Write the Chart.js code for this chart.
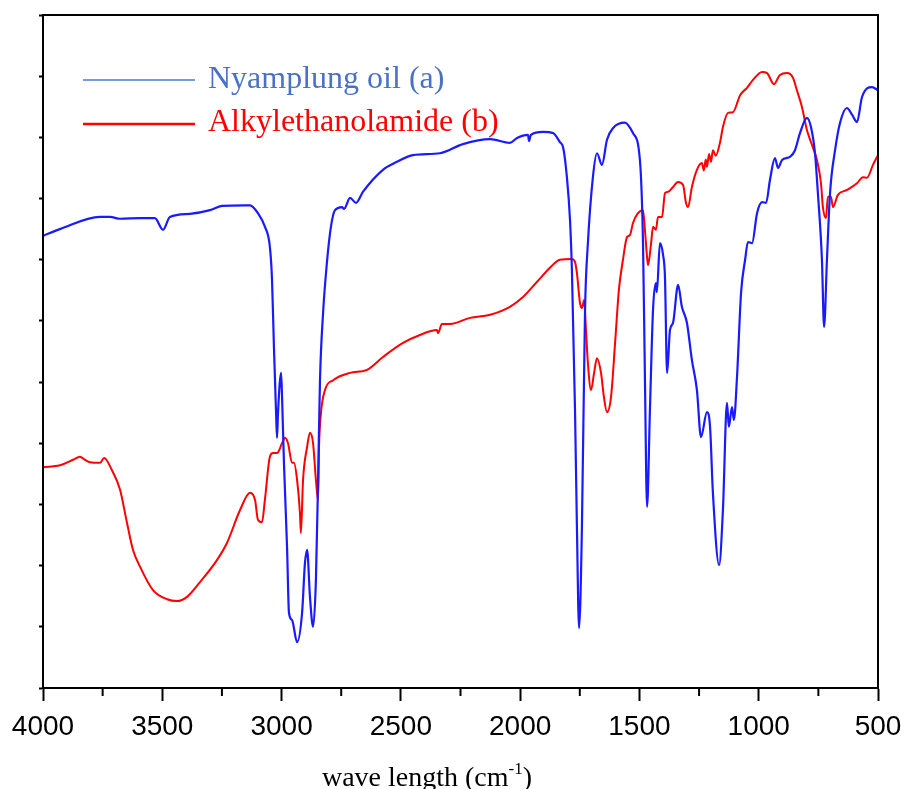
<!DOCTYPE html>
<html>
<head>
<meta charset="utf-8">
<script src="https://cdn.jsdelivr.net/npm/chart.js@4.4.1/dist/chart.umd.min.js"></script>
<style>
  html, body { margin: 0; padding: 0; background: #fff; }
  #wrap { width: 904px; height: 789px; }
</style>
</head>
<body>
<div id="wrap"><canvas id="ftirChart" width="904" height="789"></canvas></div>
<script>
// FTIR spectra, wavenumber (cm-1) vs transmittance (arbitrary units)
const nyWave = [4000, 3929, 3761, 3719, 3677, 3593, 3531, 3497, 3468, 3384, 3300, 3250, 3153, 3132, 3099,
  3070, 3049, 3040, 3032, 3023, 3019, 3015, 3002, 2998, 2990, 2977, 2969, 2956, 2935, 2914, 2902, 2893,
  2881, 2868, 2856, 2847, 2839, 2826, 2810, 2793, 2776, 2747, 2738, 2713, 2688, 2659, 2575, 2516, 2449,
  2336, 2240, 2126, 2043, 2013, 1967, 1963, 1955, 1904, 1862, 1833, 1820, 1804, 1791, 1783, 1770, 1762,
  1753, 1741, 1728, 1716, 1695, 1678, 1657, 1636, 1611, 1561, 1527, 1498, 1485, 1477, 1468, 1456, 1443,
  1431, 1427, 1414, 1401, 1393, 1384, 1372, 1359, 1338, 1322, 1301, 1280, 1259, 1242, 1217, 1204, 1192,
  1166, 1150, 1133, 1125, 1112, 1104, 1091, 1074, 1057, 1045, 1028, 1007, 986, 969, 953, 932, 919, 902,
  869, 848, 827, 798, 781, 764, 752, 735, 726, 714, 701, 680, 659, 630, 609, 588, 567, 525, 500];
const nyTrans = [73.9, 75.0, 77.0, 77.0, 76.7, 76.8, 76.8, 74.9, 77.0, 77.5, 78.1, 78.8, 78.9, 78.9, 77.6,
  75.4, 72.1, 66.7, 55.7, 44.9, 40.9, 44.9, 51.5, 47.6, 36.8, 23.0, 12.3, 11.1, 7.5, 12.3, 20.4, 22.6,
  14.9, 10.0, 17.7, 34.0, 50.3, 61.3, 69.5, 75.4, 78.1, 78.6, 78.3, 80.1, 79.3, 81.1, 84.7, 86.0, 87.1,
  87.4, 88.9, 89.7, 89.1, 89.9, 90.4, 89.4, 90.4, 90.9, 90.7, 89.2, 88.4, 83.5, 76.5, 68.3, 45.4, 26.3,
  9.8, 26.3, 61.8, 72.7, 83.5, 87.4, 85.5, 89.6, 91.5, 92.4, 90.7, 86.3, 72.7, 50.8, 29.6, 45.4, 61.8,
  66.2, 64.7, 72.7, 70.8, 67.2, 51.5, 58.5, 59.7, 65.9, 62.3, 59.7, 53.6, 48.7, 41.0, 45.1, 42.7, 31.9,
  20.1, 29.1, 46.6, 42.7, 45.9, 43.8, 50.8, 64.6, 70.0, 72.9, 72.7, 77.6, 79.4, 79.3, 83.0, 86.6, 85.0, 86.3,
  86.8, 87.9, 90.7, 93.2, 91.7, 87.4, 80.9, 70.0, 59.0, 70.0, 80.9, 87.9, 92.4, 94.8, 93.7, 92.5, 96.6, 98.2, 97.7];

const alkWave = [4000, 3929, 3874, 3845, 3824, 3803, 3761, 3744, 3711, 3677, 3648, 3623, 3593, 3539, 3480,
  3438, 3396, 3342, 3271, 3229, 3174, 3132, 3111, 3099, 3082, 3070, 3049, 3036, 3019, 2998, 2986, 2973,
  2956, 2948, 2935, 2923, 2919, 2910, 2893, 2881, 2868, 2856, 2847, 2843, 2835, 2818, 2784, 2713, 2642,
  2575, 2491, 2420, 2349, 2344, 2328, 2294, 2210, 2126, 2043, 1988, 1929, 1875, 1833, 1783, 1770, 1762,
  1749, 1741, 1732, 1724, 1716, 1703, 1690, 1678, 1661, 1649, 1636, 1619, 1602, 1586, 1569, 1552, 1540,
  1527, 1506, 1485, 1477, 1468, 1464, 1451, 1443, 1431, 1422, 1405, 1393, 1380, 1359, 1338, 1317, 1305,
  1296, 1280, 1259, 1238, 1230, 1222, 1217, 1208, 1200, 1192, 1180, 1162, 1150, 1129, 1108, 1078, 1049,
  1024, 986, 965, 936, 911, 881, 856, 840, 819, 798, 777, 756, 739, 731, 718, 710, 697, 689, 668, 630,
  588, 563, 546, 521, 500];
const alkTrans = [36.1, 36.4, 37.3, 37.8, 37.3, 36.9, 36.8, 37.6, 35.6, 32.4, 27.0, 22.6, 19.8, 16.0, 14.5,
  14.2, 14.9, 17.3, 20.9, 23.7, 29.1, 31.9, 30.7, 27.5, 27.1, 30.7, 37.8, 38.4, 38.4, 40.0, 40.9, 40.0,
  36.8, 36.8, 34.0, 28.6, 25.3, 34.0, 39.4, 41.7, 40.0, 34.0, 30.7, 39.4, 44.9, 48.7, 50.3, 51.5, 52.0,
  54.1, 56.4, 57.7, 58.5, 58.0, 59.5, 59.5, 60.5, 61.0, 62.3, 63.9, 66.4, 68.7, 70.0, 70.1, 69.6, 67.8,
  62.9, 62.1, 63.4, 58.5, 53.1, 48.7, 51.5, 53.9, 51.5, 47.6, 45.1, 47.6, 56.4, 65.1, 70.0, 73.7, 74.0,
  76.0, 77.6, 78.1, 74.9, 70.4, 69.1, 72.7, 75.4, 74.9, 77.0, 77.0, 80.9, 81.1, 81.9, 82.7, 82.2, 79.3,
  78.6, 81.9, 84.7, 85.8, 84.6, 86.4, 85.2, 87.3, 86.0, 87.9, 87.0, 89.2, 91.7, 94.0, 94.1, 96.9, 98.1,
  99.4, 100.7, 100.5, 98.7, 100.2, 100.5, 99.7, 97.7, 95.0, 91.2, 88.8, 86.3, 82.5, 78.6, 76.8, 80.3, 80.3, 78.6, 80.6, 81.4,
  82.5, 83.5, 83.4, 85.5, 87.1];

const xTicks = [4000, 3500, 3000, 2500, 2000, 1500, 1000, 500];
const xMinorTicks = [3750, 3250, 2750, 2250, 1750, 1250, 750];
const seriesNames = ['Nyamplung oil (a)', 'Alkylethanolamide (b)'];

const toPoints = (xs, ys) => xs.map((x, i) => ({ x: x, y: ys[i] }));

// frame, minor ticks, legend and axis title
const extras = {
  id: 'extras',
  afterDraw(chart) {
    const c = chart.ctx;
    const a = chart.chartArea;
    const xs = chart.scales.x;
    c.save();
    c.strokeStyle = '#000';
    c.lineWidth = 2;
    c.strokeRect(a.left, a.top, a.right - a.left, a.bottom - a.top);

    xMinorTicks.forEach(v => {
      const px = xs.getPixelForValue(v);
      c.beginPath();
      c.moveTo(px, a.bottom);
      c.lineTo(px, a.bottom + 8);
      c.stroke();
    });

    // legend
    c.font = '32px "Liberation Serif", "Times New Roman", serif';
    c.textBaseline = 'alphabetic';
    c.textAlign = 'left';
    c.strokeStyle = '#4a78d4';
    c.lineWidth = 1.5;
    c.beginPath(); c.moveTo(83, 80); c.lineTo(195, 80); c.stroke();
    c.fillStyle = '#4a72c4';
    c.fillText(seriesNames[0], 208, 88);
    c.strokeStyle = '#ff0000';
    c.lineWidth = 2.5;
    c.beginPath(); c.moveTo(83, 124); c.lineTo(195, 124); c.stroke();
    c.fillStyle = '#ff0000';
    c.fillText(seriesNames[1], 208, 131);

    // axis title
    c.fillStyle = '#000';
    c.font = '28px "Liberation Serif", "Times New Roman", serif';
    const t1 = 'wave length (cm';
    const w1 = c.measureText(t1).width;
    c.font = '17px "Liberation Serif", "Times New Roman", serif';
    const w2 = c.measureText('-1').width;
    c.font = '28px "Liberation Serif", "Times New Roman", serif';
    const w3 = c.measureText(')').width;
    let x0 = 427 - (w1 + w2 + w3) / 2;
    c.fillText(t1, x0, 786);
    c.font = '17px "Liberation Serif", "Times New Roman", serif';
    c.fillText('-1', x0 + w1, 774);
    c.font = '28px "Liberation Serif", "Times New Roman", serif';
    c.fillText(')', x0 + w1 + w2, 786);
    c.restore();
  }
};

const ctx = document.getElementById('ftirChart').getContext('2d');
new Chart(ctx, {
  type: 'line',
  data: {
    datasets: [
      {
        label: seriesNames[0],
        data: toPoints(nyWave, nyTrans),
        borderColor: '#1a1aff',
        borderWidth: 2.2,
        pointRadius: 0,
        cubicInterpolationMode: 'monotone',
        fill: false,
      },
      {
        label: seriesNames[1],
        data: toPoints(alkWave, alkTrans),
        borderColor: '#ff0000',
        borderWidth: 2,
        pointRadius: 0,
        cubicInterpolationMode: 'monotone',
        fill: false,
      },
    ],
  },
  options: {
    responsive: false,
    animation: false,
    layout: { padding: { top: 15, right: 26, left: 0, bottom: 0 } },
    plugins: {
      legend: { display: false },
      tooltip: { enabled: false },
    },
    scales: {
      x: {
        type: 'linear',
        reverse: true,
        min: 500,
        max: 4000,
        afterFit: (s) => { s.height = 101; s.paddingLeft = 0; s.paddingRight = 0; },
        afterBuildTicks: (s) => { s.ticks = xTicks.map(v => ({ value: v })); },
        border: { display: true, color: '#000', width: 2 },
        grid: { drawOnChartArea: false, drawTicks: true, tickLength: 13, tickWidth: 2, tickColor: '#000' },
        ticks: {
          autoSkip: false,
          maxRotation: 0,
          padding: 9,
          color: '#000',
          font: { family: '"Liberation Sans", Arial, sans-serif', size: 28 },
          callback: (v) => String(v),
        },
      },
      y: {
        min: 0,
        max: 110,
        afterFit: (s) => { s.width = 43; },
        border: { display: true, color: '#000', width: 2 },
        grid: { drawOnChartArea: false, drawTicks: true, tickLength: 4, tickWidth: 2, tickColor: '#000' },
        ticks: { stepSize: 10, display: false },
      },
    },
  },
  plugins: [extras],
});
</script>
</body>
</html>
